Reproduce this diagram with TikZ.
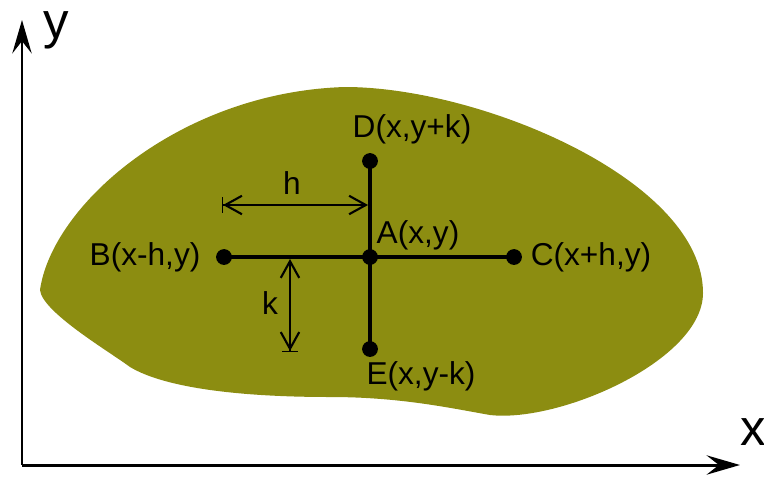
\documentclass[tikz,border=0pt]{standalone}
\usepackage{fontspec}
\setmainfont{Liberation Sans}
\usetikzlibrary{positioning,arrows.meta}
\definecolor{blobolive}{RGB}{140,141,17}
\tikzset{
    barb/.tip={Straight Barb[length=9.5pt,width=10.5pt,line width=1.2pt]},
    endbar/.tip={Bar[width=9pt,line width=0.6pt]},
}

\begin{document}
\begin{tikzpicture}[
    x=0.02cm, y=-0.02cm,
    axis/.style={line width=1.7pt, -{Stealth[length=19pt,width=11pt,inset=7pt]}},
    cross/.style={line width=2.7pt},
    dot/.style={circle, fill=black, inner sep=0pt, minimum size=9pt},
    dim/.style={line width=0.6pt},
    lbl/.style={font=\fontsize{18}{21}\selectfont, inner sep=0pt},
    axlbl/.style={font=\fontsize{29}{34}\selectfont, inner sep=0pt},
]
\useasboundingbox (0,0) rectangle (764,477);

% ===== REGION =====
\fill[blobolive] (40,290) .. controls (52,205) and (180,92) .. (345,87)
    .. controls (480,87) and (703,180) .. (703,293)
    .. controls (703,360) and (560,423) .. (490,415)
    .. controls (450,408) and (400,397) .. (330,397)
    .. controls (240,397) and (165,388) .. (130,367)
    .. controls (110,352) and (42,312) .. (40,290) -- cycle;

% ===== AXES =====
\coordinate (origin) at (22,465);
\coordinate (ytip) at (22,20);
\coordinate (xtip) at (740,465);
\draw[axis] (origin) -- (ytip);
\draw[axis] (origin) -- (xtip);
\node[axlbl] (ylbl) at (56,30) {y};
\node[axlbl] (xlbl) at (753,432) {x};

% ===== GRID POINTS =====
\node[dot] (A) at (370,257) {};
\node[dot] (B) at (224,257) {};
\node[dot] (C) at (514,257) {};
\node[dot] (D) at (370,161) {};
\node[dot] (E) at (370,349) {};
\draw[cross] (B.center) -- (C.center);
\draw[cross] (D.center) -- (E.center);

\node[lbl] (Albl) at (418,235) {A(x,y)};
\node[lbl] (Blbl) at (145,257) {B(x-h,y)};
\node[lbl] (Clbl) at (591,257) {C(x+h,y)};
\node[lbl] (Dlbl) at (412,129) {D(x,y+k)};
\node[lbl] (Elbl) at (421,376) {E(x,y-k)};

% ===== STEP SIZES =====
\coordinate (hL) at (222,205);
\coordinate (hR) at (368,205);
\draw[dim, {endbar[]barb[]}-{barb[]}] (hL) -- (hR);
\node[lbl] (hlbl) at (292,183) {h};

\coordinate (kT) at (290,259);
\coordinate (kB) at (290,352);
\draw[dim, {barb[]}-{barb[]endbar[]}] (kT) -- (kB);
\node[lbl] (klbl) at (270,303) {k};

\end{tikzpicture}
\end{document}
